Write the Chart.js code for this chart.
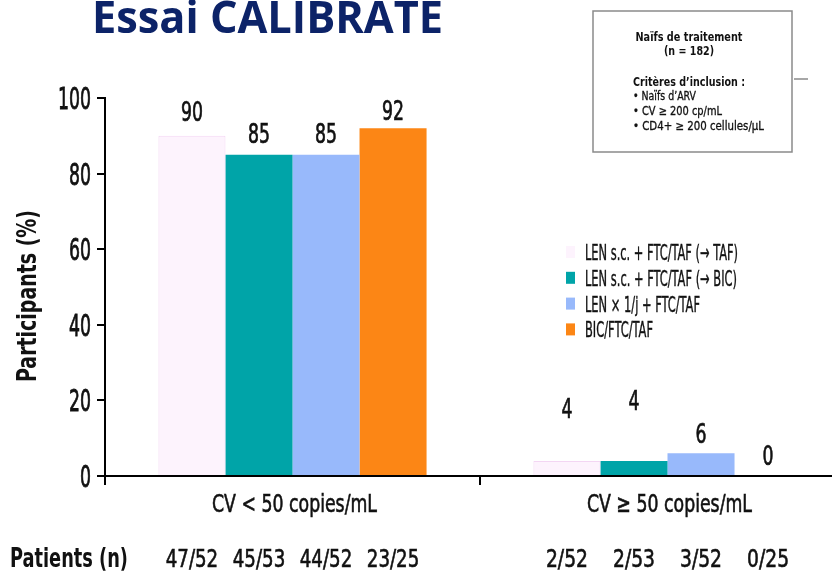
<!DOCTYPE html>
<html>
<head>
<meta charset="utf-8">
<script src="https://cdn.jsdelivr.net/npm/chart.js@4.4.1/dist/chart.umd.min.js"></script>
<style>
  html, body { margin: 0; padding: 0; background: #fff; overflow: hidden; }
  #wrap { width: 832px; height: 572px; overflow: hidden; }
</style>
</head>
<body>
<div id="wrap"><canvas id="calibrate" width="880" height="572"></canvas></div>
<script>

// outcome groups on the x axis
const groups = ['CV < 50 copies/mL', 'CV \u2265 50 copies/mL'];

// study arms
const arms = [
  'LEN s.c. + FTC/TAF (\u2192 TAF)',
  'LEN s.c. + FTC/TAF (\u2192 BIC)',
  'LEN \u00d7 1/j + FTC/TAF',
  'BIC/FTC/TAF'
];

// % of participants, one list per arm: [CV < 50, CV >= 50]
const armTaf = [90, 4];
const armBic = [85, 4];
const armDaily = [85, 6];
const armBicRef = [92, 0];

// patients (n) per arm and group
const nTaf = ['47/52', '2/52'];
const nBic = ['45/53', '2/53'];
const nDaily = ['44/52', '3/52'];
const nBicRef = ['23/25', '0/25'];

const yMax = 100;
const yStep = 20;

const colors = ['#fdf3fd', '#00a4a8', '#98b9fb', '#fc8615'];
const NARROW = "'Liberation Sans Narrow', 'DejaVu Sans Condensed', 'Liberation Sans', sans-serif";

// draw text, optionally squeezed to a given width (w) or width per char (cw)
function txt(ctx, s, x, y, o) {
  ctx.save();
  ctx.font = (o.bold ? 'bold ' : '') + o.size + 'px ' + (o.font || NARROW);
  ctx.fillStyle = o.color || '#111';
  ctx.textBaseline = 'alphabetic';
  ctx.textAlign = o.align || 'left';
  var m = ctx.measureText(s).width;
  var target = o.w || (o.cw ? o.cw * s.length : 0);
  var sx = target ? target / m : (o.sx || 1);
  ctx.translate(x, y);
  if (o.rot) ctx.rotate(o.rot);
  ctx.scale(sx, 1);
  ctx.fillText(s, 0, 0);
  if (o.heavy) {
    // the narrow regular face is a bit light, thicken it slightly
    ctx.strokeStyle = ctx.fillStyle;
    ctx.lineWidth = o.heavy;
    ctx.strokeText(s, 0, 0);
  }
  ctx.restore();
}

// gap between bar top and its number
const lift = [[15, 43], [12, 51], [12, 10], [8, 11]];

const decorations = {
  id: 'decorations',
  afterDraw(chart) {
    const ctx = chart.ctx;
    const xs = chart.scales.x, ys = chart.scales.y;

    // title
    txt(ctx, 'Essai CALIBRATE', 92, 33, { size: 44, bold: true, font: "'Open Sans', sans-serif", color: '#0c2368', w: 351 });

    // y axis labels + title
    ys.ticks.forEach(t => {
      txt(ctx, String(t.value), 91, ys.getPixelForValue(t.value) + 11, { size: 31, cw: 11, align: 'right', heavy: 0.8 });
    });
    txt(ctx, 'Participants (%)', 36, 296, { size: 27, bold: true, rot: -Math.PI / 2, align: 'center', w: 172 });

    // group names under the axis
    groups.forEach((g, i) => {
      txt(ctx, g, xs.getPixelForTick(i) + 2, 512, { size: 25, align: 'center', w: 165, heavy: 0.6 });
    });

    // numbers above bars and patient counts row
    const counts = [nTaf, nBic, nDaily, nBicRef];
    chart.data.datasets.forEach((ds, i) => {
      chart.getDatasetMeta(i).data.forEach((bar, j) => {
        txt(ctx, String(ds.data[j]), bar.x, bar.y - lift[i][j], { size: 27, cw: 11, align: 'center', heavy: 0.7 });
        txt(ctx, counts[i][j], bar.x, 567, { size: 25, cw: 10.5, align: 'center', heavy: 0.6 });
      });
    });
    txt(ctx, 'Patients (n)', 10, 567, { size: 26, bold: true, w: 118 });

    // legend
    arms.forEach((a, i) => {
      const y = 252 + i * 25.8;
      ctx.fillStyle = colors[i];
      ctx.fillRect(566, y - 6, 9, 12);
      txt(ctx, a, 585, y + 8, { size: 22, w: [153, 152, 115, 68][i], heavy: 0.4 });
    });

    // study design box
    ctx.save();
    ctx.strokeStyle = '#8a8a8a';
    ctx.lineWidth = 1.5;
    ctx.strokeRect(593, 11, 199, 141);
    ctx.beginPath();
    ctx.moveTo(794, 79);
    ctx.lineTo(808, 79);
    ctx.stroke();
    ctx.restore();
    txt(ctx, 'Na\u00effs de traitement', 689, 41, { size: 13, bold: true, align: 'center', w: 107 });
    txt(ctx, '(n = 182)', 689, 55, { size: 13, bold: true, align: 'center', w: 50 });
    txt(ctx, 'Crit\u00e8res d\u2019inclusion :', 633, 86, { size: 13, bold: true, w: 112 });
    txt(ctx, '\u2022 Na\u00effs d\u2019ARV', 633, 100, { size: 12, w: 63, heavy: 0.3 });
    txt(ctx, '\u2022 CV \u2265 200 cp/mL', 633, 115, { size: 12, w: 89, heavy: 0.3 });
    txt(ctx, '\u2022 CD4+ \u2265 200 cellules/\u00b5L', 633, 130, { size: 12, w: 131, heavy: 0.3 });
  }
};

const values = [armTaf, armBic, armDaily, armBicRef];

new Chart(document.getElementById('calibrate'), {
  type: 'bar',
  data: {
    labels: groups,
    datasets: arms.map((a, i) => ({
      label: a,
      data: values[i],
      backgroundColor: colors[i],
      borderColor: i === 0 ? '#f3d6f3' : colors[i],
      borderWidth: i === 0 ? 1 : 0,
      barPercentage: 1,
      categoryPercentage: 0.715
    }))
  },
  options: {
    responsive: false,
    animation: false,
    layout: { padding: { top: 98, left: 0, right: 25, bottom: 0 } },
    plugins: {
      legend: { display: false },
      title: { display: false },
      tooltip: { enabled: false }
    },
    scales: {
      x: {
        afterFit(scale) { scale.height = 96; },
        ticks: { display: false },
        grid: { offset: true, drawOnChartArea: false, drawTicks: true, tickLength: 9, color: '#000', lineWidth: 2 },
        border: { color: '#000', width: 2 }
      },
      y: {
        min: 0,
        max: yMax,
        afterFit(scale) { scale.width = 105; },
        ticks: { display: false, stepSize: yStep },
        grid: { drawOnChartArea: false, drawTicks: true, tickLength: 8, color: '#000', lineWidth: 2 },
        border: { color: '#000', width: 2 }
      }
    }
  },
  plugins: [decorations]
});
</script>
</body>
</html>
